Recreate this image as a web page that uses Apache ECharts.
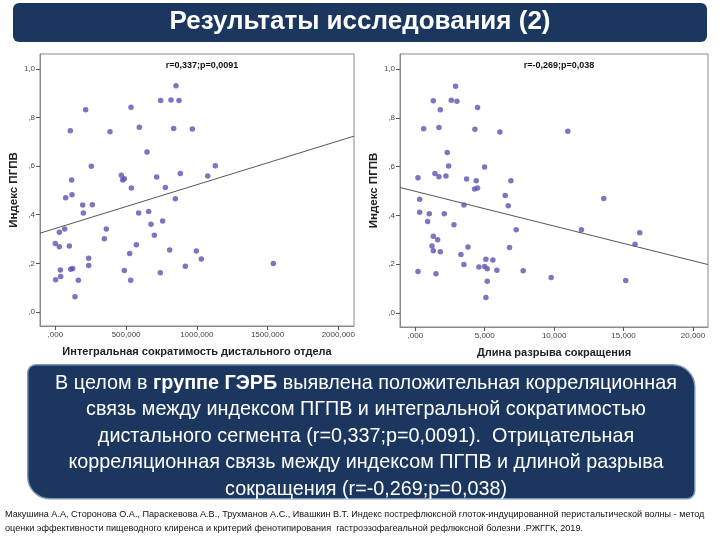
<!DOCTYPE html>
<html>
<head>
<meta charset="utf-8">
<script src="https://cdn.jsdelivr.net/npm/echarts@6/dist/echarts.min.js"></script>
<style>
  html, body { margin: 0; padding: 0; background: #fff; }
  #chart { width: 720px; height: 540px; }
</style>
</head>
<body>
<div id="chart"></div>
<script>
// левый график: интегральная сократимость дистального отдела (x) vs индекс ПГПВ (y)
var leftX = [852.8, 744.4, 817.4, 874.0, 534.7, 214.4, 836.3, 968.2, 593.6, 106.0,
  386.3, 647.8, 254.4, 1130.7, 1076.6, 466.4, 487.6, 475.9, 716.1, 883.4,
  115.4, 537.1, 777.4, 117.8, 73.0, 848.0, 193.2, 261.5, 197.9, 588.9,
  659.6, 676.1, 758.5, 66.0, 28.3, 360.4, 699.6, 346.3, 0.0, 28.3,
  98.9, 572.4, 808.0, 996.5, 525.3, 235.6, 1031.8, 1540.6, 235.6, 918.7,
  35.3, 122.5, 108.4, 487.6, 742.0, 37.7, 2.4, 162.5, 532.4, 139.0];
var leftY = [0.931, 0.870, 0.872, 0.870, 0.842, 0.832, 0.755, 0.753, 0.760, 0.746,
  0.742, 0.658, 0.599, 0.602, 0.559, 0.562, 0.548, 0.543, 0.555, 0.570,
  0.543, 0.510, 0.512, 0.482, 0.470, 0.466, 0.440, 0.441, 0.407, 0.407,
  0.413, 0.361, 0.374, 0.341, 0.328, 0.341, 0.315, 0.301, 0.282, 0.268,
  0.271, 0.276, 0.255, 0.251, 0.240, 0.221, 0.218, 0.199, 0.191, 0.188,
  0.172, 0.179, 0.176, 0.170, 0.161, 0.146, 0.132, 0.130, 0.130, 0.062];
var leftFit = { intercept: 0.3435, slope: 0.00018 };
var leftTicksX = [0, 500, 1000, 1500, 2000];
var leftRangeX = [-108.4, 2110.7];

// правый график: длина разрыва сокращения (x) vs индекс ПГПВ (y)
var rightX = [2.902, 1.295, 2.590, 2.998, 1.799, 4.484, 0.600, 1.703, 4.292, 6.091,
  10.983, 2.302, 2.398, 4.988, 0.192, 1.415, 1.703, 2.206, 3.693, 4.388,
  6.882, 4.268, 4.484, 6.475, 0.312, 13.573, 3.501, 6.690, 0.312, 1.007,
  2.086, 0.887, 2.782, 7.266, 11.966, 16.163, 1.295, 1.607, 1.199, 3.789,
  6.786, 15.827, 1.295, 1.799, 3.285, 5.084, 5.587, 3.501, 4.580, 4.988,
  5.180, 5.875, 7.770, 0.192, 1.487, 9.784, 15.155, 5.180, 5.084];
var rightY = [0.929, 0.870, 0.872, 0.868, 0.833, 0.842, 0.755, 0.760, 0.753, 0.742,
  0.745, 0.658, 0.602, 0.598, 0.554, 0.571, 0.558, 0.561, 0.549, 0.542,
  0.542, 0.508, 0.512, 0.481, 0.466, 0.469, 0.442, 0.439, 0.413, 0.406,
  0.406, 0.375, 0.361, 0.341, 0.341, 0.329, 0.314, 0.300, 0.274, 0.270,
  0.268, 0.281, 0.255, 0.251, 0.239, 0.220, 0.217, 0.198, 0.188, 0.190,
  0.181, 0.175, 0.173, 0.170, 0.160, 0.145, 0.133, 0.130, 0.0625];
var rightFit = { intercept: 0.4983, slope: -0.014245 };
var rightTicksX = [0, 5, 10, 15, 20];
var rightRangeX = [-1.103, 21.08];

var ticksY = [0, 0.2, 0.4, 0.6, 0.8, 1.0];
var rangeY = [-0.058, 1.0615];

var titles = ['r=0,337;p=0,0091', 'r=-0,269;p=0,038'];
var xNames = ['Интегральная сократимость дистального отдела', 'Длина разрыва сокращения'];
var yName = 'Индекс ПГПВ';

var slideTitle = 'Результаты исследования (2)';
var summaryLines = [
  'В целом в {b|группе ГЭРБ} выявлена положительная корреляционная',
  'связь между индексом ПГПВ и интегральной сократимостью',
  'дистального сегмента (r=0,337;p=0,0091).  Отрицательная',
  'корреляционная связь между индексом ПГПВ и длиной разрыва',
  'сокращения (r=-0,269;p=0,038)'
];
var footnote = [
  'Макушина А.А, Сторонова О.А., Параскевова А.В., Трухманов А.С., Ивашкин В.Т. Индекс пострефлюксной глоток-индуцированной перистальтической волны - метод',
  'оценки эффективности пищеводного клиренса и критерий фенотипирования  гастроэзофагеальной рефлюксной болезни .РЖГГК, 2019.'
];

function pairs(xs, ys) {
  var out = [];
  for (var i = 0; i < xs.length; i++) out.push([xs[i], ys[i]]);
  return out;
}
function fitLine(fit, range) {
  return range.map(function (x) { return [x, fit.intercept + fit.slope * x]; });
}
function fmt(v, d) {
  var s = v.toFixed(d).replace('.', ',');
  return s.charAt(0) === '0' ? s.slice(1) : s;
}

var navy = '#1b3760';
var dotColor = '#5b52b4';

function makeX(idx, range, ticks) {
  return {
    type: 'value', gridIndex: idx, min: range[0], max: range[1],
    name: xNames[idx], nameLocation: 'middle', nameGap: 20,
    nameTextStyle: { fontFamily: 'Liberation Sans', fontWeight: 'bold', fontSize: 11, color: '#222' },
    axisLine: { show: true, onZero: false, lineStyle: { color: '#8a8a8a' } },
    axisTick: { show: true, length: 4, customValues: ticks, lineStyle: { color: '#555' } },
    axisLabel: { customValues: ticks, fontSize: 8, color: '#444', margin: 5,
      fontFamily: 'Liberation Sans', formatter: function (v) { return fmt(v, 3); } },
    splitLine: { show: false }
  };
}
function makeY(idx) {
  return {
    type: 'value', gridIndex: idx, min: rangeY[0], max: rangeY[1],
    name: yName, nameLocation: 'middle', nameGap: 16, nameRotate: 90,
    nameTextStyle: { fontFamily: 'Liberation Sans', fontWeight: 'bold', fontSize: 11.5, color: '#222' },
    axisLine: { show: true, onZero: false, lineStyle: { color: '#8a8a8a' } },
    axisTick: { show: true, length: 4, customValues: ticksY, lineStyle: { color: '#555' } },
    axisLabel: { customValues: ticksY, fontSize: 8, color: '#444', margin: 5,
      fontFamily: 'Liberation Sans', formatter: function (v) { return fmt(v, 1); } },
    splitLine: { show: false }
  };
}

var chart = echarts.init(document.getElementById('chart'), null, { renderer: 'canvas' });
chart.setOption({
  backgroundColor: '#ffffff',
  animation: false,
  title: [
    { text: titles[0], left: 197, top: 56, textAlign: 'center',
      textStyle: { fontFamily: 'Liberation Sans', fontSize: 9, fontWeight: 'bold', color: '#111' } },
    { text: titles[1], left: 554, top: 56, textAlign: 'center',
      textStyle: { fontFamily: 'Liberation Sans', fontSize: 9, fontWeight: 'bold', color: '#111' } },
    { text: summaryLines.join('\n'), left: 361, top: 365, textAlign: 'center',
      textStyle: { fontFamily: 'Liberation Sans', fontSize: 19.8, fontWeight: 'normal', color: '#fff', lineHeight: 26.5,
        rich: { b: { fontFamily: 'Liberation Sans', fontSize: 19.8, fontWeight: 'bold', color: '#fff', lineHeight: 26.5 } } } }
  ],
  grid: [
    { left: 40, top: 54, width: 314, height: 272, show: true, borderColor: '#8a8a8a', borderWidth: 1, backgroundColor: '#fff' },
    { left: 400, top: 54, width: 308, height: 273, show: true, borderColor: '#8a8a8a', borderWidth: 1, backgroundColor: '#fff' }
  ],
  xAxis: [makeX(0, leftRangeX, leftTicksX), makeX(1, rightRangeX, rightTicksX)],
  yAxis: [makeY(0), makeY(1)],
  series: [
    { type: 'line', xAxisIndex: 0, yAxisIndex: 0, data: fitLine(leftFit, leftRangeX),
      symbol: 'none', lineStyle: { color: '#555', width: 1 }, z: 2 },
    { type: 'scatter', xAxisIndex: 0, yAxisIndex: 0, data: pairs(leftX, leftY),
      symbolSize: 5.5, itemStyle: { color: dotColor }, z: 3 },
    { type: 'line', xAxisIndex: 1, yAxisIndex: 1, data: fitLine(rightFit, rightRangeX),
      symbol: 'none', lineStyle: { color: '#555', width: 1 }, z: 2 },
    { type: 'scatter', xAxisIndex: 1, yAxisIndex: 1, data: pairs(rightX, rightY),
      symbolSize: 5.5, itemStyle: { color: dotColor }, z: 3 }
  ],
  graphic: [
    { type: 'rect', left: 13, top: 3, z: 0,
      shape: { width: 694, height: 39, r: 6 }, style: { fill: navy } },
    { type: 'text', left: 'center', top: 9, z: 1,
      style: { text: slideTitle, fill: '#fff', font: 'bold 26px "Liberation Sans", Arial, sans-serif' } },
    { type: 'rect', left: 27, top: 364, z: 0,
      shape: { width: 667, height: 134, r: [8, 22, 8, 22] },
      style: { fill: navy, stroke: '#7f97b6', lineWidth: 1.5 } },
    { type: 'text', left: 5, top: 507, z: 1,
      style: { text: footnote.join('\n'), fill: '#111', lineHeight: 14,
        font: '9.1px "Liberation Sans Narrow", "Liberation Sans", sans-serif' } }
  ]
});
</script>
</body>
</html>
